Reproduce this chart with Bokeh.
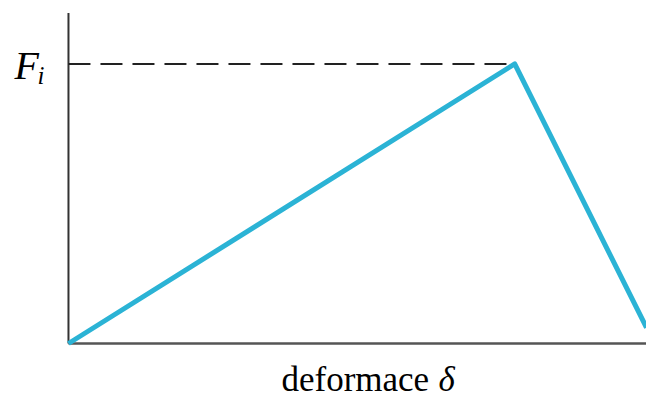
from bokeh.plotting import figure
from bokeh.models import Range1d, Label, ColumnDataSource
from bokeh.embed import file_html
from bokeh.resources import INLINE

# data (arbitrary units)
deformation = [0.0, 7.72, 10.0]
force = [0.0, 8.46, 0.48]
F_i = 8.46
x_peak = 7.72
x_axis_end = 10.0
y_axis_end = 10.0
axis_title = "deformace"
axis_symbol = "δ"
force_label = "F"
force_sub = "i"

p = figure(width=646, height=402, output_backend="svg", toolbar_location=None,
           x_range=Range1d(-1.176, 10.0), y_range=Range1d(-1.785, 10.378),
           min_border=0)
p.outline_line_color = None
p.axis.visible = False
p.xgrid.visible = False
p.ygrid.visible = False
p.background_fill_color = "white"
p.border_fill_color = "white"

# axes lines
p.line(x=[0, x_axis_end], y=[0, 0], line_color="#555555", line_width=2.5)
p.line(x=[0, 0], y=[0, y_axis_end], line_color="#333333", line_width=2)

# dashed reference line at F_i
p.line(x=[0, x_peak], y=[F_i, F_i], line_color="#222222", line_width=2, line_dash="22 10")

src = ColumnDataSource(dict(x=deformation, y=force))
p.line("x", "y", source=src, line_color="#2BB3D5", line_width=5, line_join="round")

serif = "'Liberation Serif', 'Times New Roman', serif"
p.add_layout(Label(x=0, y=F_i, x_offset=-54, y_offset=-2, text=force_label,
                   text_font=serif, text_font_style="italic", text_font_size="40px",
                   text_color="black", text_align="left", text_baseline="alphabetic"))
p.add_layout(Label(x=0, y=F_i, x_offset=-31, y_offset=-12, text=force_sub,
                   text_font=serif, text_font_style="italic", text_font_size="25px",
                   text_color="black", text_align="left", text_baseline="alphabetic"))
p.add_layout(Label(x=0, y=0, x_offset=213, y_offset=-36, text=axis_title,
                   text_font=serif, text_font_size="35px",
                   text_color="black", text_align="left", text_baseline="alphabetic"))
p.add_layout(Label(x=0, y=0, x_offset=370, y_offset=-36, text=axis_symbol,
                   text_font=serif, text_font_style="italic", text_font_size="35px",
                   text_color="black", text_align="left", text_baseline="alphabetic"))

open("out.html", "w").write(file_html(p, INLINE))
